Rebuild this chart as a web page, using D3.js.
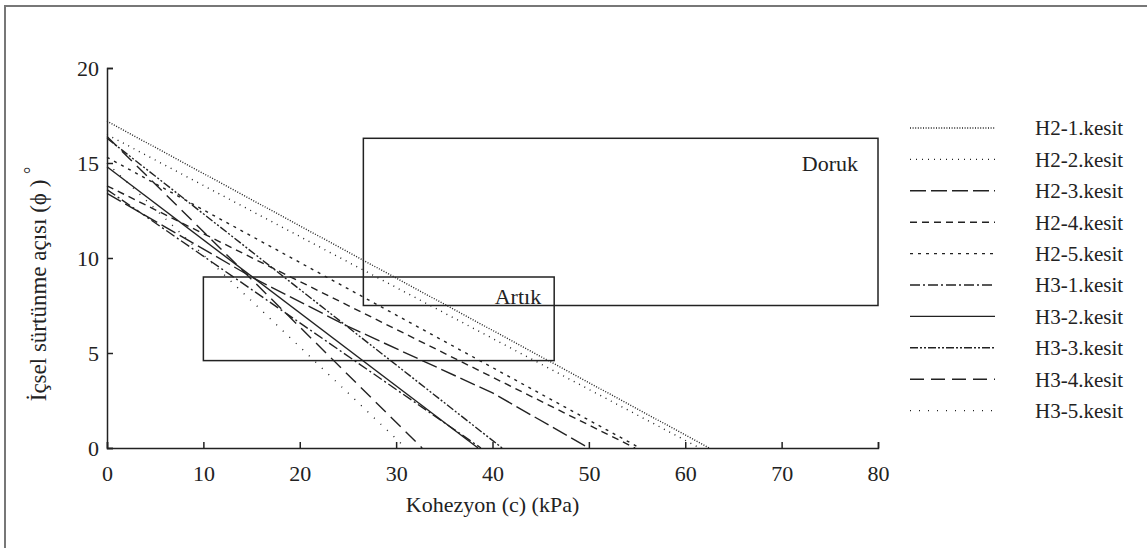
<!DOCTYPE html>
<html>
<head>
<meta charset="utf-8">
<script src="https://cdn.jsdelivr.net/npm/d3@7"></script>
<style>
  body { margin: 0; background: #fff; }
  svg { display: block; font-family: "Liberation Serif", "Times New Roman", serif; }
</style>
</head>
<body>
<div class="chart"></div>
<script>
// series names (legend order)
const seriesNames = ['H2-1.kesit', 'H2-2.kesit', 'H2-3.kesit', 'H2-4.kesit', 'H2-5.kesit',
    'H3-1.kesit', 'H3-2.kesit', 'H3-3.kesit', 'H3-4.kesit', 'H3-5.kesit'];

// cohesion c (kPa) and friction angle phi (deg)
const h21 = [[0, 17.2], [62.5, 0]];
const h22 = [[0, 16.5], [61.5, 0]];
const h23 = [[0, 13.4], [15, 9.0], [25, 6.4], [40, 2.9], [50, 0]];
const h24 = [[0, 13.8], [54.8, 0]];
const h25 = [[0, 15.3], [55.3, 0]];
const h31 = [[0, 13.6], [38.8, 0]];
const h32 = [[0, 14.8], [38.5, 0]];
const h33 = [[0, 16.3], [41, 0]];
const h34 = [[0, 16.4], [32.7, 0]];
const h35 = [[0, 15.0], [31, 0]];

// peak / residual ranges: [cMin, cMax, phiMin, phiMax]
const dorukBox = [26.6, 80, 7.5, 16.3];
const artikBox = [10, 46.4, 4.6, 9.0];

const xTicks = [0, 10, 20, 30, 40, 50, 60, 70, 80];
const yTicks = [0, 5, 10, 15, 20];

const allSeries = [h21, h22, h23, h24, h25, h31, h32, h33, h34, h35];
const dashes = ['1,1.6', '1,5', '16,5', '7,5', '3,5', '10,3,2,3', null, '8,2,2,2,2,2', '14,7', '1,8'];

const width = 1147, height = 548;
const svg = d3.select('.chart').append('svg')
    .attr('width', width)
    .attr('height', height);

// outer frame (only top and left visible)
svg.append('path')
    .attr('d', `M5,${height} L5,6 L${width},6`)
    .attr('fill', 'none')
    .attr('stroke', '#777')
    .attr('stroke-width', 2);

const x = d3.scaleLinear().domain([0, 80]).range([107, 878]);
const y = d3.scaleLinear().domain([0, 20]).range([448, 68]);

// axes
const xAxis = svg.append('g')
    .attr('transform', `translate(0,${y(0)})`)
    .call(d3.axisBottom(x).tickValues(xTicks).tickSize(-6).tickPadding(17).tickFormat(d3.format('d')));
const yAxis = svg.append('g')
    .attr('transform', `translate(${x(0)},0)`)
    .call(d3.axisLeft(y).tickValues(yTicks).tickSize(-6).tickPadding(8).tickFormat(d3.format('d')));

[xAxis, yAxis].forEach(g => {
    g.select('.domain').attr('stroke', '#222').attr('stroke-width', 1.5);
    g.selectAll('.tick line').attr('stroke', '#222').attr('stroke-width', 1.5);
    g.selectAll('.tick text').attr('fill', '#222').attr('font-size', 22)
        .attr('font-family', '"Liberation Serif", serif');
});

// boxes
[dorukBox, artikBox].forEach(b => {
    svg.append('rect')
        .attr('x', x(b[0]))
        .attr('y', y(b[3]))
        .attr('width', x(b[1]) - x(b[0]))
        .attr('height', y(b[2]) - y(b[3]))
        .attr('fill', 'none')
        .attr('stroke', '#222')
        .attr('stroke-width', 1.5);
});
svg.append('text')
    .attr('x', x(dorukBox[1]) - 20).attr('y', y(dorukBox[3]) + 33)
    .attr('text-anchor', 'end').attr('font-size', 22).attr('fill', '#222')
    .text('Doruk');
svg.append('text')
    .attr('x', x(artikBox[1]) - 13).attr('y', y(artikBox[3]) + 27)
    .attr('text-anchor', 'end').attr('font-size', 22).attr('fill', '#222')
    .text('Artık');

// series lines
const line = d3.line().x(d => x(d[0])).y(d => y(d[1]));
allSeries.forEach((s, i) => {
    svg.append('path')
        .datum(s)
        .attr('d', line)
        .attr('fill', 'none')
        .attr('stroke', '#222')
        .attr('stroke-width', 1.4)
        .attr('stroke-dasharray', dashes[i]);
});

// legend
const legend = svg.append('g');
seriesNames.forEach((name, i) => {
    const ly = 128 + i * 31.4;
    legend.append('line')
        .attr('x1', 910).attr('x2', 995)
        .attr('y1', ly).attr('y2', ly)
        .attr('stroke', '#222')
        .attr('stroke-width', 1.4)
        .attr('stroke-dasharray', dashes[i]);
    legend.append('text')
        .attr('x', 1035).attr('y', ly)
        .attr('dy', '0.35em')
        .attr('font-size', 21)
        .attr('fill', '#222')
        .text(name);
});

// axis titles
svg.append('text')
    .attr('x', (x(0) + x(80)) / 2).attr('y', 512)
    .attr('text-anchor', 'middle').attr('font-size', 22).attr('fill', '#222')
    .text('Kohezyon (c) (kPa)');

const yTitle = svg.append('text')
    .attr('transform', 'translate(46,284) rotate(-90)')
    .attr('text-anchor', 'middle').attr('font-size', 23).attr('fill', '#222');
yTitle.append('tspan').text('İçsel sürtünme açısı (ϕ ) ');
yTitle.append('tspan').attr('dy', -9).attr('font-size', 18).text('°');
</script>
</body>
</html>
